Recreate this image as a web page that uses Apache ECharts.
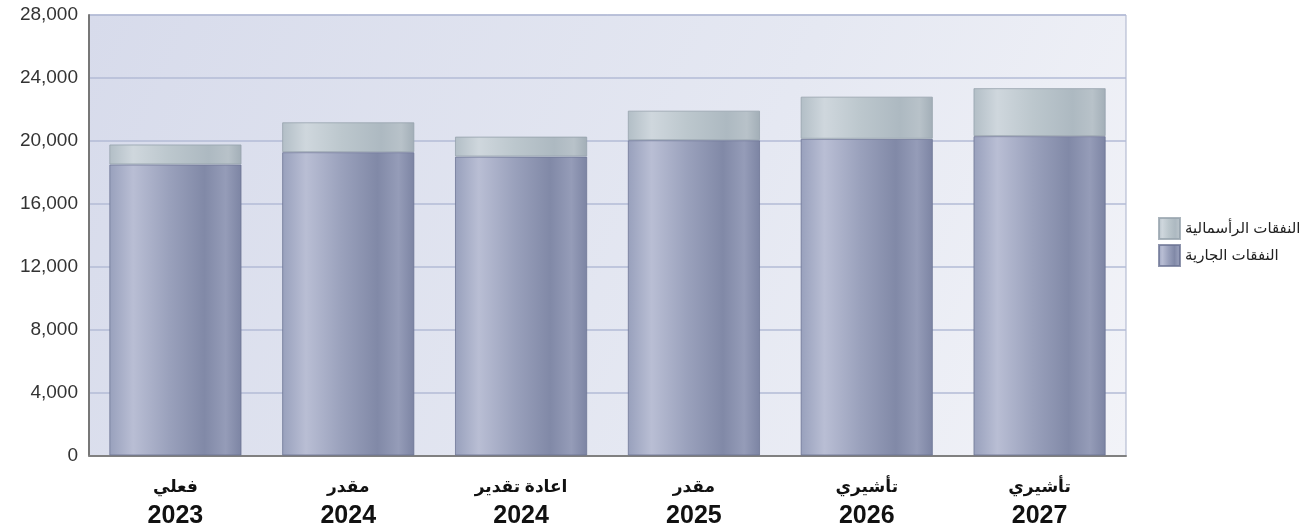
<!DOCTYPE html>
<html>
<head>
<meta charset="utf-8">
<script src="https://cdn.jsdelivr.net/npm/echarts@6/dist/echarts.min.js"></script>
<style>
html,body{margin:0;padding:0;background:#fff;}
#c{width:1312px;height:529px;}
</style>
</head>
<body>
<div id="c"></div>
<script>
const categories = ['فعلي\n2023', 'مقدر\n2024', 'اعادة تقدير\n2024', 'مقدر\n2025', 'تأشيري\n2026', 'تأشيري\n2027'];
const currentName = 'النفقات الجارية';
const capitalName = 'النفقات الرأسمالية';
const currentValues = [18500, 19280, 19000, 20040, 20130, 20300];
const capitalValues = [1270, 1900, 1270, 1880, 2680, 3050];
const yTicks = [0, 4000, 8000, 12000, 16000, 20000, 24000, 28000];

const font = 'Arial, "Liberation Sans", "DejaVu Sans", sans-serif';
function grad(stops){
  return new echarts.graphic.LinearGradient(0,0,1,0, stops.map(s=>({offset:s[0], color:s[1]})));
}
const currentColor = grad([[0,'#98a0bc'],[0.18,'#b9bed4'],[0.45,'#9aa1bc'],[0.72,'#8189a7'],[0.88,'#959cb8'],[1,'#7c84a3']]);
const capitalColor = grad([[0,'#b2bec6'],[0.18,'#cfd7dd'],[0.45,'#bcc7cd'],[0.75,'#adb9c1'],[0.9,'#b8c2c9'],[1,'#a2aeb7']]);

const chart = echarts.init(document.getElementById('c'));
chart.setOption({
  animation: false,
  backgroundColor: '#ffffff',
  textStyle: {fontFamily: font},
  grid: {
    left: 89, right: 186, top: 15, bottom: 72,
    show: true,
    backgroundColor: new echarts.graphic.LinearGradient(0,0,1,1,[{offset:0,color:'#d7dbeb'},{offset:0.6,color:'#e5e8f2'},{offset:1,color:'#f2f3f8'}]),
    borderColor: '#a9b1cb', borderWidth: 1
  },
  legend: {
    orient: 'vertical',
    left: 1153, top: 212,
    itemWidth: 21, itemHeight: 21, itemGap: 4,
    icon: 'rect',
    data: [capitalName, currentName],
    textStyle: {fontFamily: font, fontSize: 15, color: '#222'}
  },
  xAxis: {
    type: 'category',
    data: categories,
    axisLine: {show: true, lineStyle: {color: '#808080', width: 2}},
    axisTick: {show: false},
    axisLabel: {
      interval: 0,
      margin: 18,
      formatter: v => { const p = v.split('\n'); return '{a|' + p[0] + '}\n{y|' + p[1] + '}'; },
      rich: {
        a: {fontSize: 17, fontWeight: 'bold', color: '#111', lineHeight: 28, fontFamily: font},
        y: {fontSize: 25, fontWeight: 'bold', color: '#111', lineHeight: 30, fontFamily: font}
      }
    }
  },
  yAxis: {
    type: 'value',
    min: 0, max: 28000, interval: 4000,
    axisLine: {show: true, lineStyle: {color: '#777', width: 2}},
    axisTick: {show: false},
    splitLine: {show: true, lineStyle: {color: '#b3bbd6', width: 1.5}},
    axisLabel: {
      margin: 11, fontSize: 19, color: '#333', fontFamily: font,
      formatter: v => yTicks.includes(v) ? v.toLocaleString('en-US') : ''
    }
  },
  series: [
    {
      name: currentName, type: 'bar', stack: 'total',
      data: currentValues, barWidth: '76.5%',
      itemStyle: {color: currentColor, borderColor: 'rgba(105,113,145,0.75)', borderWidth: 1}
    },
    {
      name: capitalName, type: 'bar', stack: 'total',
      data: capitalValues, barWidth: '76.5%',
      itemStyle: {color: capitalColor, borderColor: 'rgba(150,162,172,0.8)', borderWidth: 1}
    }
  ]
});
</script>
</body>
</html>
